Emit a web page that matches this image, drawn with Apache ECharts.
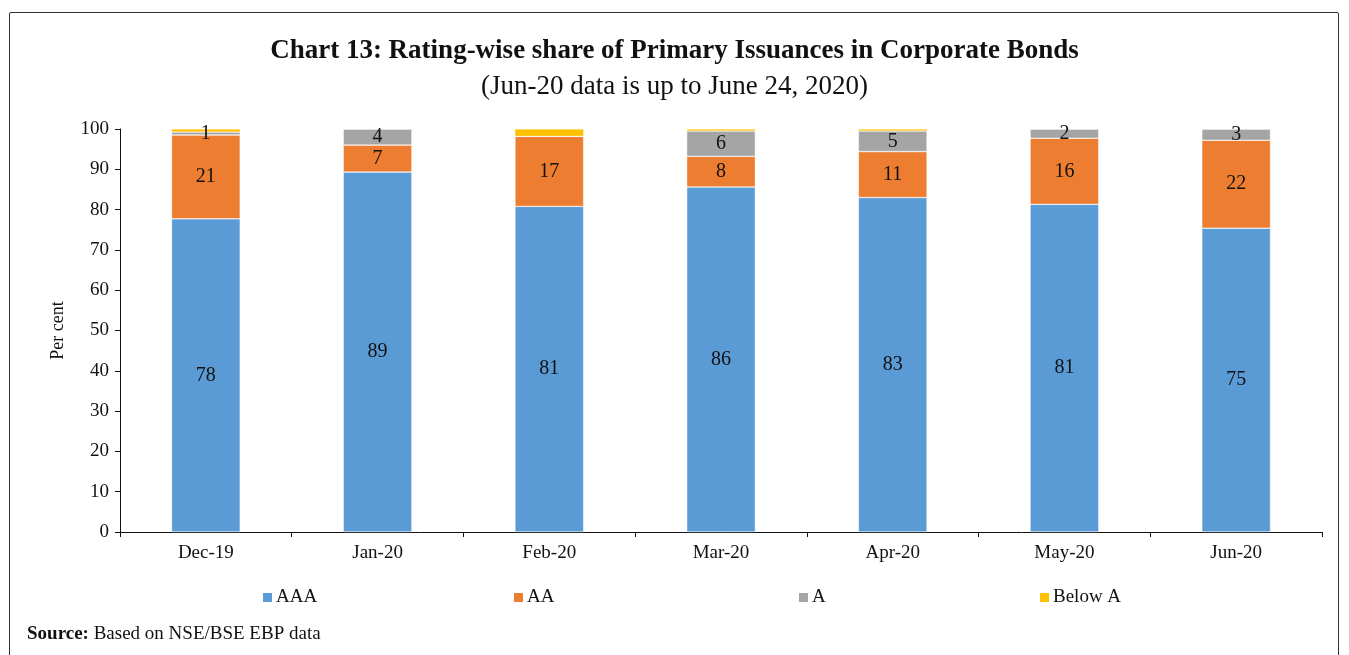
<!DOCTYPE html>
<html>
<head>
<meta charset="utf-8">
<script src="https://cdn.jsdelivr.net/npm/echarts@6/dist/echarts.min.js"></script>
<style>
  html, body { margin: 0; padding: 0; background: #fff; }
  #frame {
    position: absolute; left: 9px; top: 12px; width: 1330px; height: 700px;
    border: 1.5px solid #333; border-radius: 2px; box-sizing: border-box;
  }
  #chart { position: absolute; left: 0; top: 0; width: 1349px; height: 655px; }
</style>
</head>
<body>
<div id="frame"></div>
<div id="chart"></div>
<script>
const categories = ['Dec-19', 'Jan-20', 'Feb-20', 'Mar-20', 'Apr-20', 'May-20', 'Jun-20']
const aaa = [77.7, 89.3, 80.8, 85.6, 83.0, 81.3, 75.4]
const aa = [20.8, 6.7, 17.4, 7.6, 11.4, 16.4, 21.8]
const a = [0.75, 4.0, 0, 6.3, 5.1, 2.3, 2.8]
const belowA = [0.75, 0, 1.8, 0.5, 0.5, 0, 0]
const yTicks = [0, 10, 20, 30, 40, 50, 60, 70, 80, 90, 100]

const font = 'Liberation Serif'

function labelCfg (minVal) {
  return {
    show: true,
    position: 'inside',
    color: '#111',
    fontFamily: font,
    fontSize: 20,
    formatter: function (p) {
      return p.value >= minVal ? Math.round(p.value) : ''
    }
  }
}

function legendAt (left, name) {
  return {
    left: left,
    top: 583,
    data: [name],
    itemWidth: 11,
    itemHeight: 11,
    itemGap: 4,
    icon: 'rect',
    textStyle: { fontFamily: font, fontSize: 19, color: '#111', padding: [0, 0, 0, -2] }
  }
}

const chart = echarts.init(document.getElementById('chart'))
const option = {
  animation: false,
  title: [
    {
      text: 'Chart 13: Rating-wise share of Primary Issuances in Corporate Bonds',
      left: 'center',
      top: 33,
      textStyle: { fontFamily: font, fontSize: 27, fontWeight: 'bold', color: '#111' }
    },
    {
      text: '(Jun-20 data is up to June 24, 2020)',
      left: 'center',
      top: 68,
      textStyle: { fontFamily: font, fontSize: 27, fontWeight: 'normal', color: '#111' }
    },
    {
      text: '{b|Source:} Based on NSE/BSE EBP data',
      left: 22,
      top: 620,
      textStyle: {
        fontFamily: font, fontSize: 19, fontWeight: 'normal', color: '#111',
        rich: { b: { fontFamily: font, fontSize: 19, fontWeight: 'bold', color: '#111' } }
      }
    }
  ],
  legend: [
    legendAt(256, 'AAA'),
    legendAt(507, 'AA'),
    legendAt(792, 'A'),
    legendAt(1033, 'Below A')
  ],
  grid: { left: 120, right: 27, top: 129, bottom: 123, containLabel: false },
  xAxis: {
    type: 'category',
    data: categories,
    axisLine: { show: true, lineStyle: { color: '#111', width: 1 } },
    axisTick: { show: true, length: 5, lineStyle: { color: '#111' } },
    axisLabel: { fontFamily: font, fontSize: 19, color: '#111', margin: 12 }
  },
  yAxis: {
    type: 'value',
    min: yTicks[0],
    max: yTicks[yTicks.length - 1],
    interval: 10,
    name: 'Per cent',
    nameLocation: 'middle',
    nameGap: 53,
    nameTextStyle: { fontFamily: font, fontSize: 18, color: '#111' },
    axisLine: { show: true, lineStyle: { color: '#111', width: 1 } },
    axisTick: { show: true, length: 5, lineStyle: { color: '#111' } },
    axisLabel: { fontFamily: font, fontSize: 19, color: '#111', margin: 11 },
    splitLine: { show: false }
  },
  series: [
    {
      name: 'AAA', type: 'bar', stack: 'total', data: aaa, barWidth: '40%',
      itemStyle: { color: '#5B9BD5', borderColor: '#fff', borderWidth: 0.5 },
      label: labelCfg(0.5)
    },
    {
      name: 'AA', type: 'bar', stack: 'total', data: aa,
      itemStyle: { color: '#ED7D31', borderColor: '#fff', borderWidth: 0.5 },
      label: labelCfg(0.5)
    },
    {
      name: 'A', type: 'bar', stack: 'total', data: a,
      itemStyle: { color: '#A5A5A5', borderColor: '#fff', borderWidth: 0.5 },
      label: labelCfg(0.5)
    },
    {
      name: 'Below A', type: 'bar', stack: 'total', data: belowA,
      itemStyle: { color: '#FFC000', borderColor: '#fff', borderWidth: 0.3 },
      label: { show: false }
    }
  ]
}
chart.setOption(option)
</script>
</body>
</html>
